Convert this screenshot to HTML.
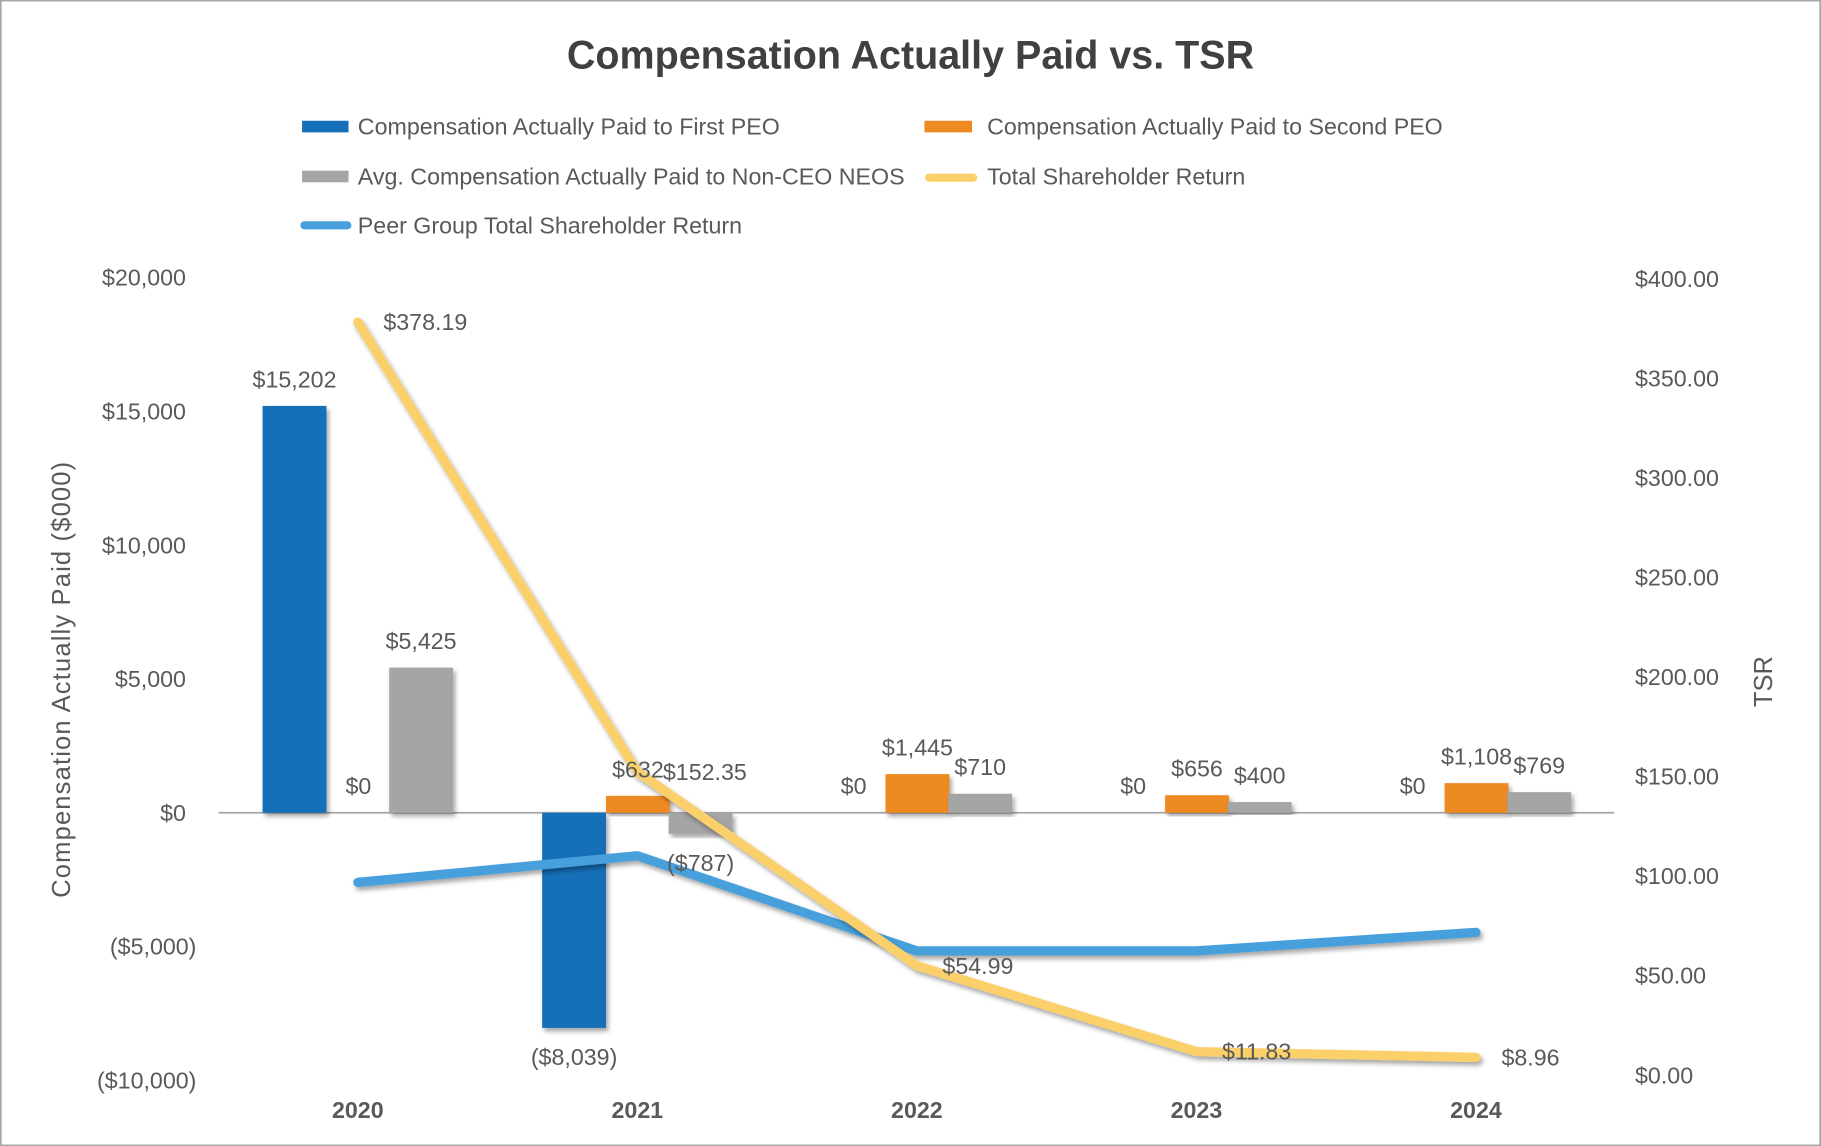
<!DOCTYPE html>
<html><head><meta charset="utf-8"><style>
html,body{margin:0;padding:0;background:#fff;}
svg{display:block;font-family:"Liberation Sans",sans-serif;}
</style></head><body>
<svg id="chart" width="1821" height="1146" viewBox="0 0 1568 987" xmlns="http://www.w3.org/2000/svg">
<defs><filter id="sh" x="-20%" y="-20%" width="140%" height="140%"><feDropShadow dx="2" dy="3" stdDeviation="2" flood-color="#000" flood-opacity="0.35"/></filter></defs>
<rect x="0.5" y="0.5" width="1567" height="986" fill="#fff" stroke="#a6a6a6" stroke-width="1.5"/>
<text x="784" y="59" text-anchor="middle" font-size="34" font-weight="bold" fill="#404040">Compensation Actually Paid vs. TSR</text>
<g font-size="20" fill="#595959">
<g><rect x="260" y="104" width="40" height="10" fill="#1570b9"/><text x="308" y="116">Compensation Actually Paid to First PEO</text></g>
<g><rect x="796" y="104" width="41" height="10" fill="#ee8a22"/><text x="850" y="116">Compensation Actually Paid to Second PEO</text></g>
<g><rect x="260" y="147" width="40" height="10" fill="#a5a5a5"/><text x="308" y="159">Avg. Compensation Actually Paid to Non-CEO NEOS</text></g>
<g><line x1="800" y1="153" x2="838" y2="153" stroke="#fbd06b" stroke-width="7" stroke-linecap="round"/><text x="850" y="159">Total Shareholder Return</text></g>
<g><line x1="262" y1="194" x2="299" y2="194" stroke="#47a0db" stroke-width="7" stroke-linecap="round"/><text x="308" y="201">Peer Group Total Shareholder Return</text></g>
</g>
<text transform="translate(60,585) rotate(-90)" text-anchor="middle" font-size="22" fill="#595959" letter-spacing="1">Compensation Actually Paid ($000)</text>
<text transform="translate(1526,587) rotate(-90)" text-anchor="middle" font-size="22" fill="#595959">TSR</text>
<g id="axes"></g>
<g id="bars"></g>
<g id="lines"></g>
<g id="labels"></g>
</svg>
<script>
const categories=["2020","2021","2022","2023","2024"];
const firstPeo=[15202,-8039,0,0,0];
const secondPeo=[0,632,1445,656,1108];
const nonCeo=[5425,-787,710,400,769];
const tsr=[378.19,152.35,54.99,11.83,8.96];
const peerTsr=[96.8,110.2,62.4,62.4,71.7];
const leftTicks=[20000,15000,10000,5000,0,-5000,-10000];
const rightTicks=[400,350,300,250,200,150,100,50,0];
const NS="http://www.w3.org/2000/svg";
const yL=v=>700-v*0.02305;
const yR=v=>926-v*1.715;
const xC=i=>308+i*240.75;
const fmtL=v=>v<0?"($"+Math.abs(v).toLocaleString("en-US")+")":"$"+v.toLocaleString("en-US");
function mk(tag,attrs,parent,txt){const e=document.createElementNS(NS,tag);for(const k in attrs)e.setAttribute(k,attrs[k]);if(txt!==undefined)e.textContent=txt;document.getElementById(parent).appendChild(e);return e;}
// axes
let e=mk("line",{x1:188,x2:1390,y1:yL(0),y2:yL(0),stroke:"#a6a6a6","stroke-width":1.5},"axes");


leftTicks.forEach(v=>{const t=mk("text",{x:v<0?169:160,y:yL(v)+7,"text-anchor":"end","font-size":20,fill:"#595959"},"axes",fmtL(v));

});
rightTicks.forEach(v=>{const t=mk("text",{x:1408,y:yR(v)+7,"font-size":20,fill:"#595959"},"axes","$"+v.toFixed(2));

});
categories.forEach((c,i)=>{const t=mk("text",{x:xC(i),y:963,"text-anchor":"middle","font-size":20,"font-weight":"bold",fill:"#595959"},"axes",c);

});
// bars
const series=[[firstPeo,"#1570b9",-82,"bar-first-peo"],[secondPeo,"#ee8a22",-27,"bar-second-peo"],[nonCeo,"#a5a5a5",27,"bar-non-ceo"]];
series.forEach(([arr,col,off,name])=>{arr.forEach((v,i)=>{
const x=xC(i)+off,y0=yL(0),y1=yL(v);
const b=mk("rect",{x:x,y:Math.min(y0,y1),width:55,height:Math.max(Math.abs(y1-y0),0.01),fill:col,filter:"url(#sh)"},"bars");


const ly=v>=0?y1-16:y1+32;
const t=mk("text",{x:x+27.5,y:ly,"text-anchor":"middle","font-size":20,fill:"#595959"},"labels",fmtL(v));


});});
// lines
function line(arr,col,name){const p=arr.map((v,i)=>xC(i)+","+yR(v)).join(" ");
const l=mk("polyline",{points:p,fill:"none",stroke:col,"stroke-width":8,"stroke-linecap":"round","stroke-linejoin":"round",filter:"url(#sh)"},"lines");

}
line(peerTsr,"#47a0db","peer-tsr-line");
line(tsr,"#fbd06b","tsr-line");
tsr.forEach((v,i)=>{const t=mk("text",{x:xC(i)+22,y:yR(v)+7,"font-size":20,fill:"#595959"},"labels","$"+v.toFixed(2));

});
</script>
</body></html>
